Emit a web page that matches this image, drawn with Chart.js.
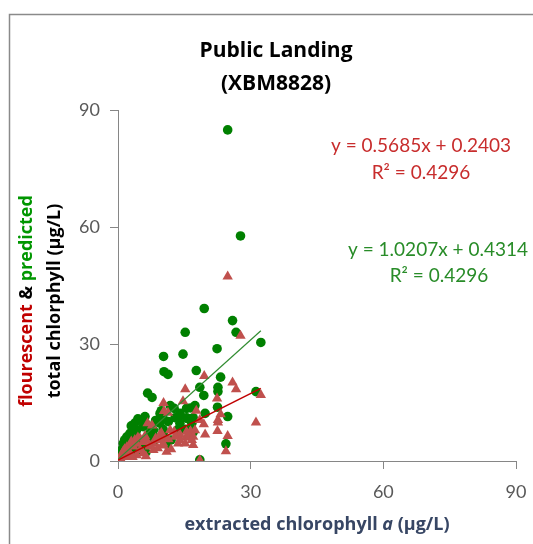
<!DOCTYPE html>
<html>
<head>
<meta charset="utf-8">
<script src="https://cdn.jsdelivr.net/npm/chart.js@4/dist/chart.umd.min.js"></script>
<style>
  html, body { margin: 0; padding: 0; background: #fff; }
  canvas { display: block; }
</style>
</head>
<body>
<canvas id="chart" width="533" height="544"></canvas>
<script>
// extracted chlorophyll a (x), same samples for both series
const extracted = [24.8, 27.7, 19.5, 25.9, 26.7, 15.2, 32.3, 22.4, 14.7, 10.3, 10.4, 11.3, 17.7, 23.2, 18.5, 22.6, 22.6, 31.2, 6.7, 7.7, 19.4, 12.7, 16.4, 22.5, 9.8, 13.7, 15.7, 16.3, 24.8, 19.7, 24.4, 18.5, 6.1, 5.0, 3.8, 2.7, 2.0, 1.2, 0.8, 0.5, 9.5, 10.2, 11.4, 14.0, 8.0, 7.2, 4.2, 3.5, 5.7, 10.2, 9.5, 10.2, 11.0, 7.2, 8.0, 5.0, 5.7, 4.2, 2.7, 2.0, 1.2, 0.3, 13.6, 15.5, 17.4, 17.0, 15.5, 16.7, 17.0, 14.0, 15.2, 11.8, 12.9, 3.0, 4.5, 6.5, 8.5, 1.5, 2.3, 3.3, 6.3, 9.0, 12.0];
const fluorescent = [47.3, 32.1, 21.8, 20.1, 18.4, 18.4, 16.9, 16.0, 15.3, 14.9, 12.8, 12.4, 12.9, 12.0, 10.5, 10.5, 9.9, 9.9, 9.7, 9.1, 9.4, 7.5, 7.6, 7.7, 7.2, 6.4, 6.1, 6.0, 6.4, 6.8, 2.5, 0.2, 6.4, 5.8, 5.4, 4.0, 3.5, 2.5, 1.6, 0.8, 6.8, 6.1, 5.6, 6.8, 4.4, 4.0, 4.4, 3.7, 4.9, 4.0, 5.4, 4.5, 2.4, 3.7, 2.8, 2.8, 2.0, 1.5, 2.0, 1.2, 1.0, 0.5, 4.5, 6.2, 7.9, 6.2, 7.5, 5.4, 4.1, 5.4, 4.5, 7.9, 6.2, 5.0, 6.0, 5.2, 5.8, 3.0, 2.6, 1.0, 1.2, 3.3, 3.0];
const predicted = [84.9, 57.7, 39.1, 36.0, 33.0, 33.0, 30.4, 28.8, 27.4, 26.8, 22.9, 22.2, 23.2, 21.5, 18.9, 18.9, 17.8, 17.8, 17.4, 16.3, 16.8, 13.5, 13.6, 13.8, 12.9, 11.4, 10.9, 10.7, 11.4, 12.2, 4.4, 0.3, 11.4, 10.5, 9.7, 7.1, 6.2, 4.5, 2.8, 1.5, 12.2, 10.9, 10.1, 12.2, 7.9, 7.1, 7.9, 6.7, 8.8, 7.1, 9.7, 8.1, 4.3, 6.6, 5.0, 5.0, 3.6, 2.7, 3.6, 2.2, 1.8, 0.9, 8.1, 11.1, 14.2, 11.1, 13.5, 9.7, 7.4, 9.7, 8.1, 14.2, 11.1, 9.0, 10.8, 9.3, 10.4, 5.4, 4.7, 1.8, 2.2, 5.9, 5.4];

// linear fits shown on the chart: [fluorescent, predicted]
const fitSlopes = [0.5685, 1.0207];
const fitIntercepts = [0.2403, 0.4314];
const fitR2 = [0.4296, 0.4296];

const axisTicks = [0, 30, 60, 90];

const RED = "rgb(192,80,77)";
const GREEN = "rgb(0,128,0)";
const FONT = "Lato, 'Open Sans', sans-serif";
const BOLD = "'Open Sans', Lato, sans-serif";

const toPoints = (ys) => extracted.map((x, i) => ({ x: x, y: ys[i] }));
const xEnd = Math.max(...extracted);
const fitLine = (k) => [
  { x: 0, y: fitIntercepts[k] },
  { x: xEnd, y: fitSlopes[k] * xEnd + fitIntercepts[k] },
];

// draws a run of differently styled pieces centred on x
function drawPieces(ctx, pieces, cx, y) {
  let total = 0;
  pieces.forEach((p) => {
    ctx.font = p.font;
    total += ctx.measureText(p.text).width;
  });
  let x = cx - total / 2;
  ctx.textAlign = "left";
  pieces.forEach((p) => {
    ctx.font = p.font;
    ctx.fillStyle = p.color;
    ctx.fillText(p.text, x, y);
    x += ctx.measureText(p.text).width;
  });
}

const textPlugin = {
  id: "texts",
  beforeDraw(chart) {
    const ctx = chart.ctx;
    ctx.save();
    ctx.fillStyle = "#fff";
    ctx.fillRect(0, 0, chart.width, chart.height);
    ctx.strokeStyle = "#8a8a8a";
    ctx.lineWidth = 1.5;
    ctx.strokeRect(9.5, 14.5, 600, 600);
    ctx.restore();
  },
  afterDraw(chart) {
    const ctx = chart.ctx;
    ctx.save();
    ctx.textBaseline = "alphabetic";
    ctx.textAlign = "center";

    // title
    ctx.fillStyle = "#000";
    ctx.font = "bold 21px " + BOLD;
    ctx.fillText("Public Landing", 276, 57);
    ctx.fillText("(XBM8828)", 276, 90);

    // fit equations
    ctx.font = "19px " + FONT;
    ctx.fillStyle = "rgb(200,45,45)";
    ctx.fillText("y = " + fitSlopes[0] + "x + " + fitIntercepts[0], 421, 152);
    ctx.fillText("R\u00b2 = " + fitR2[0], 421, 179);
    ctx.fillStyle = "rgb(40,140,40)";
    ctx.fillText("y = " + fitSlopes[1] + "x + " + fitIntercepts[1], 438, 256);
    ctx.fillText("R\u00b2 = " + fitR2[1], 439, 282);

    // x axis title
    const xc = "rgb(55,70,100)";
    drawPieces(ctx, [
      { text: "extracted chlorophyll ", font: "bold 18px " + BOLD, color: xc },
      { text: "a", font: "italic bold 18px " + BOLD, color: xc },
      { text: " (\u00b5g/L)", font: "bold 18px " + BOLD, color: xc },
    ], 317, 530);

    // y axis title, two rotated lines
    ctx.translate(0, 301);
    ctx.rotate(-Math.PI / 2);
    ctx.textBaseline = "middle";
    const yf = "bold 18px " + BOLD;
    drawPieces(ctx, [
      { text: "flourescent", font: yf, color: "rgb(192,0,0)" },
      { text: " & ", font: yf, color: "#000" },
      { text: "predicted", font: yf, color: "rgb(0,150,0)" },
    ], 0, 27);
    drawPieces(ctx, [
      { text: "total chlorphyll (\u00b5g/L)", font: yf, color: "#000" },
    ], 0, 55);
    ctx.restore();
  },
};

const axisCommon = {
  type: "linear",
  min: 0,
  max: 90,
  border: { display: true, color: "#868686", width: 1 },
  grid: { drawOnChartArea: false, drawTicks: true, tickLength: 8, color: "#868686" },
  afterBuildTicks: (axis) => { axis.ticks = axisTicks.map((v) => ({ value: v })); },
};

new Chart(document.getElementById("chart"), {
  type: "scatter",
  data: {
    datasets: [
      {
        label: "fit fluorescent",
        type: "line",
        data: fitLine(0),
        borderColor: "rgb(192,0,0)",
        borderWidth: 1.5,
        pointRadius: 0,
        fill: false,
        order: 0,
      },
      {
        label: "fit predicted",
        type: "line",
        data: fitLine(1),
        borderColor: "rgb(50,140,50)",
        borderWidth: 1.2,
        pointRadius: 0,
        fill: false,
        order: 0,
      },
      {
        label: "fluorescent",
        data: toPoints(fluorescent),
        pointStyle: "triangle",
        pointRadius: 6,
        backgroundColor: RED,
        borderColor: RED,
        borderWidth: 0,
        order: 1,
      },
      {
        label: "predicted",
        data: toPoints(predicted),
        pointStyle: "circle",
        pointRadius: 4.8,
        backgroundColor: GREEN,
        borderColor: GREEN,
        borderWidth: 0,
        order: 2,
      },
    ],
  },
  options: {
    responsive: false,
    animation: false,
    layout: { padding: { left: 70, right: 17, top: 110, bottom: 40 } },
    plugins: {
      legend: { display: false },
      title: { display: false },
      tooltip: { enabled: false },
    },
    scales: {
      x: Object.assign({}, axisCommon, {
        position: "bottom",
        ticks: { color: "#595959", font: { family: FONT, size: 18 }, padding: 12 },
        afterFit: (s) => { s.height = 43; s.paddingLeft = 0; s.paddingRight = 0; },
      }),
      y: Object.assign({}, axisCommon, {
        position: "left",
        ticks: { color: "#595959", font: { family: FONT, size: 18 }, padding: 10 },
        afterFit: (s) => { s.width = 48; s.paddingTop = 0; s.paddingBottom = 0; },
      }),
    },
  },
  plugins: [textPlugin],
});
</script>
</body>
</html>
